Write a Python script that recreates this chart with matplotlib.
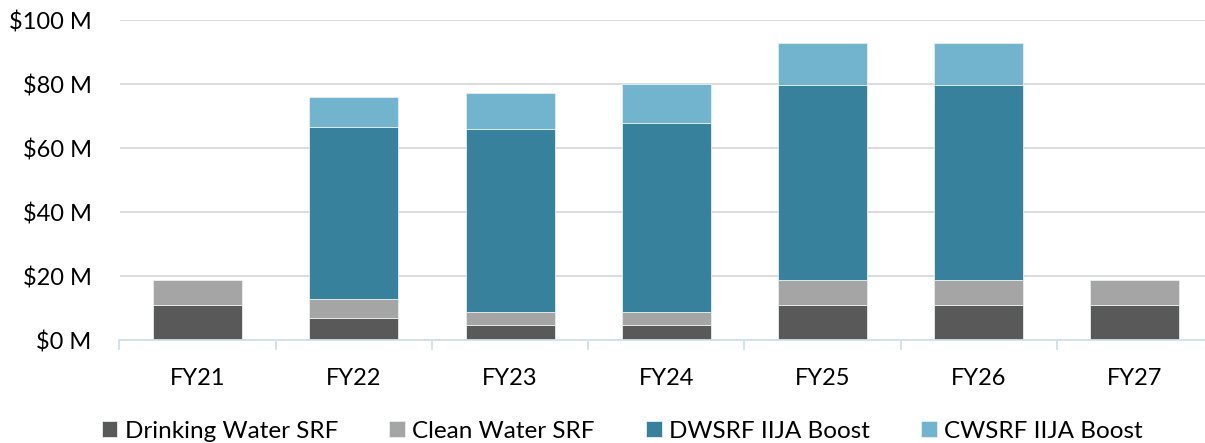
import matplotlib.pyplot as plt
import numpy as np

plt.rcParams['font.family'] = ['Lato', 'DejaVu Sans']

# Funding by fiscal year ($M)
years = ['FY21', 'FY22', 'FY23', 'FY24', 'FY25', 'FY26', 'FY27']
drinking_srf = [11.0, 7.0, 4.8, 4.8, 10.8, 10.8, 10.8]
clean_srf = [7.8, 5.7, 3.9, 3.9, 7.9, 7.9, 7.9]
dwsrf_iija = [0, 54.0, 57.1, 59.2, 61.0, 61.0, 0]
cwsrf_iija = [0, 9.1, 11.5, 12.2, 13.2, 13.2, 0]

series = [
    ('Drinking Water SRF', drinking_srf, '#595959'),
    ('Clean Water SRF', clean_srf, '#A5A5A5'),
    ('DWSRF IIJA Boost', dwsrf_iija, '#37819D'),
    ('CWSRF IIJA Boost', cwsrf_iija, '#72B3CE'),
]

fig = plt.figure(figsize=(12.05, 4.43), dpi=100)
ax = fig.add_axes([119.5 / 1205, 103 / 443, 1093.5 / 1205, 320 / 443])

x = np.arange(len(years))
bottom = np.zeros(len(years))
for name, vals, color in series:
    vals = np.array(vals)
    ax.bar(x, vals, 0.57, bottom=bottom, color=color, label=name,
           edgecolor='#E6EEF0', linewidth=0.6, zorder=3)
    bottom += vals

ax.set_xlim(-0.5, len(years) - 0.5)
ax.set_ylim(0, 100)
ax.set_yticks(range(0, 101, 20))
ax.set_yticklabels([f'${v} M' for v in range(0, 101, 20)])
ax.set_xticks(x)
ax.set_xticklabels(years)
ax.set_xticks(np.arange(-0.5, len(years), 1), minor=True)

ax.grid(axis='y', color='#D9D9D9', linewidth=1.3, zorder=0)
for s in ['top', 'right', 'left']:
    ax.spines[s].set_visible(False)
ax.spines['bottom'].set_color('#CFE2E6')
ax.spines['bottom'].set_linewidth(1.3)
ax.spines['bottom'].set_zorder(4)

ax.tick_params(axis='y', length=0, pad=20, labelsize=17)
ax.tick_params(axis='x', which='major', length=0, pad=20, labelsize=17)
ax.tick_params(axis='x', which='minor', length=7, width=1.3, color='#CFE2E6')

ax.legend(loc='center', bbox_to_anchor=(622 / 1205, 12 / 443),
          bbox_transform=fig.transFigure, ncol=4, frameon=False,
          fontsize=17.5, handlelength=0.65, handleheight=0.65,
          handletextpad=0.3, columnspacing=2.1)

plt.savefig('out.png', dpi=100)
